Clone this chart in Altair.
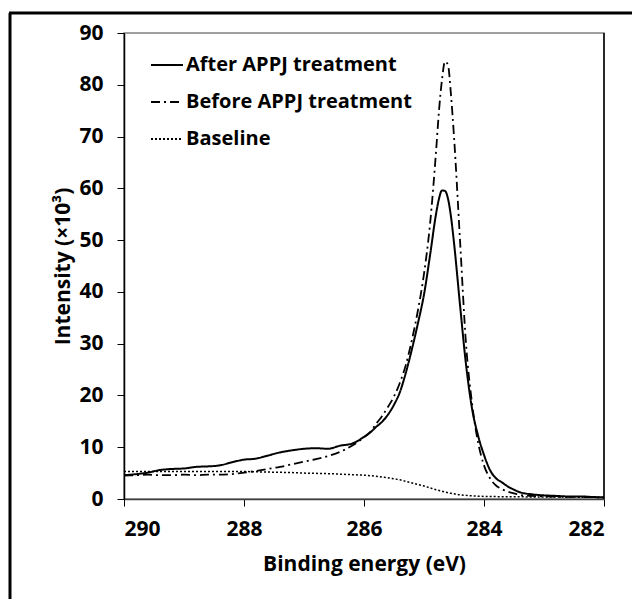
import altair as alt
import pandas as pd

# ---- data ----
energy = [290.0, 289.8, 289.6, 289.4, 289.2, 289.0, 288.8, 288.6, 288.4, 288.2,
          288.0, 287.8, 287.6, 287.4, 287.2, 287.0, 286.8, 286.6, 286.4, 286.2,
          286.0, 285.9, 285.8, 285.7, 285.6, 285.5, 285.4, 285.3, 285.2, 285.1,
          285.0, 284.9, 284.8, 284.75, 284.7, 284.65, 284.6, 284.55, 284.5,
          284.4, 284.3, 284.2, 284.1, 284.0, 283.9, 283.8, 283.7, 283.6, 283.5,
          283.4, 283.2, 283.0, 282.8, 282.6, 282.4, 282.2, 282.0]

after = [4.6, 4.8, 5.1, 5.6, 5.8, 5.9, 6.2, 6.3, 6.5, 7.1,
         7.6, 7.8, 8.4, 9.0, 9.4, 9.7, 9.8, 9.7, 10.3, 10.7,
         12.0, 12.8, 13.9, 14.9, 16.3, 18.2, 20.7, 24.5, 29.0, 34.0,
         39.5, 47.0, 55.0, 58.0, 59.6, 59.5, 58.0, 54.5, 49.5,
         37.5, 26.0, 17.5, 12.3, 8.5, 5.6, 4.0, 3.2, 2.4, 1.8,
         1.3, 0.9, 0.7, 0.6, 0.5, 0.5, 0.4, 0.3]

before = [4.5, 4.6, 4.7, 4.6, 4.6, 4.7, 4.6, 4.7, 4.7, 4.8,
          5.1, 5.4, 5.8, 6.2, 6.7, 7.2, 7.7, 8.3, 9.1, 10.3,
          11.9, 12.9, 14.5, 16.0, 17.8, 19.8, 22.5, 26.0, 30.8, 36.5,
          43.5, 53.0, 67.0, 75.0, 81.0, 84.5, 83.8, 78.0, 70.0,
          50.0, 30.0, 18.5, 11.0, 6.5, 4.0, 2.6, 1.9, 1.4, 1.1,
          0.8, 0.6, 0.5, 0.45, 0.4, 0.4, 0.35, 0.3]

baseline = [5.3, 5.3, 5.3, 5.3, 5.3, 5.3, 5.3, 5.3, 5.3, 5.3,
            5.3, 5.25, 5.2, 5.15, 5.1, 5.0, 4.95, 4.9, 4.8, 4.7,
            4.6, 4.5, 4.4, 4.25, 4.1, 3.9, 3.7, 3.4, 3.1, 2.8,
            2.5, 2.15, 1.8, 1.65, 1.5, 1.35, 1.2, 1.1, 1.0,
            0.8, 0.7, 0.6, 0.55, 0.5, 0.48, 0.46, 0.45, 0.45, 0.44,
            0.42, 0.4, 0.4, 0.38, 0.37, 0.36, 0.35, 0.35]

series_names = ["After APPJ treatment", "Before APPJ treatment", "Baseline"]
x_ticks = [290, 288, 286, 284, 282]
y_ticks = [0, 10, 20, 30, 40, 50, 60, 70, 80, 90]

rows = []
for name, vals in zip(series_names, [after, before, baseline]):
    for e, v in zip(energy, vals):
        rows.append({"energy": e, "intensity": v, "series": name})
df = pd.DataFrame(rows)

FONT = "Open Sans"

dash_scale = alt.Scale(domain=series_names, range=[[1, 0], [9, 4, 2, 4], [2, 2]])

x_enc = alt.X("energy:Q",
              scale=alt.Scale(domain=[282, 290], reverse=True, nice=False, zero=False),
              axis=alt.Axis(values=x_ticks, format="d", title="Binding energy (eV)",
                            labelPadding=12, titlePadding=14, domainColor="#404040"))
y_enc = alt.Y("intensity:Q",
              scale=alt.Scale(domain=[0, 90], nice=False),
              axis=alt.Axis(values=y_ticks, format="d", title="Intensity (×10³)",
                            labelPadding=14, titlePadding=5, domainColor="black"))
dash_enc = alt.StrokeDash("series:N", scale=dash_scale,
                          legend=alt.Legend(orient="none", legendX=26, legendY=15,
                                            title=None, symbolType="stroke",
                                            symbolSize=1024, symbolStrokeWidth=2,
                                            symbolStrokeColor="black",
                                            labelFont=FONT, labelFontSize=20,
                                            labelFontWeight="bold", labelColor="black",
                                            labelLimit=0, labelOffset=2, rowPadding=10,
                                            padding=0))


def series_line(name, width):
    return (alt.Chart(df)
            .transform_filter(alt.datum.series == name)
            .mark_line(color="black", strokeWidth=width, interpolate="monotone")
            .encode(x=x_enc, y=y_enc, strokeDash=dash_enc))


lines = [series_line(series_names[2], 1.5),
         series_line(series_names[1], 1.8),
         series_line(series_names[0], 2.0)]

one = alt.Data(values=[{"k": 1}])
frame_left = alt.Chart(one).mark_rule(color="black", strokeWidth=3).encode(
    x=alt.value(-114), y=alt.value(-20), y2=alt.value(600))
frame_top = alt.Chart(one).mark_rule(color="black", strokeWidth=3).encode(
    x=alt.value(-115), x2=alt.value(520), y=alt.value(-20))
right_edge = alt.Chart(one).mark_rule(color="black", strokeWidth=1.5).encode(
    x=alt.value(480), y=alt.value(0), y2=alt.value(466))

chart = (alt.layer(*lines, right_edge, frame_left, frame_top)
         .properties(width=480, height=466,
                     autosize=alt.AutoSizeParams(type="none"),
                     padding={"left": 116, "top": 25, "right": 28, "bottom": 100})
         .configure_view(stroke="#808080", strokeWidth=1.5)
         .configure_axis(labelFont=FONT, labelFontSize=21, labelFontWeight="bold",
                         labelColor="black", titleFont=FONT, titleFontSize=21,
                         titleFontWeight="bold", titleColor="black", tickColor="black",
                         tickSize=7, tickWidth=1, domainWidth=1.5, grid=False))

chart.save("out.html", embed_options={"renderer": "svg", "actions": False})
